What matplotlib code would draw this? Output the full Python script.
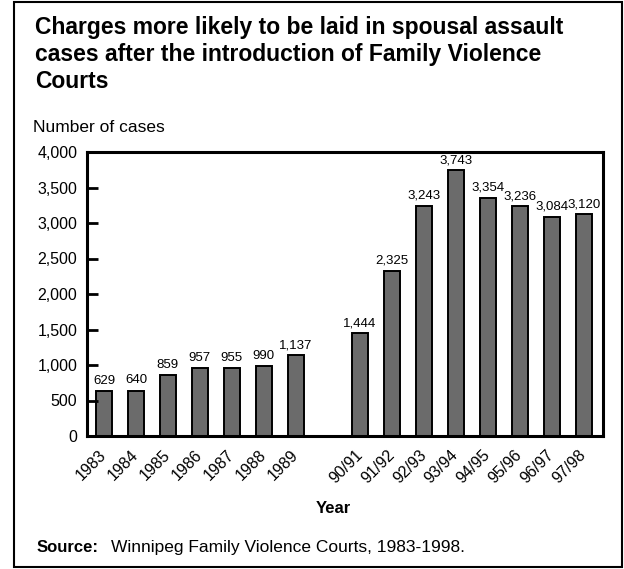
import numpy as np
import matplotlib.pyplot as plt
from matplotlib.patches import Rectangle
from matplotlib.ticker import FuncFormatter

plt.rcParams['font.family'] = ['Liberation Sans', 'DejaVu Sans']

years = ['1983', '1984', '1985', '1986', '1987', '1988', '1989']
year_vals = [629, 640, 859, 957, 955, 990, 1137]
fiscal = ['90/91', '91/92', '92/93', '93/94', '94/95', '95/96', '96/97', '97/98']
fiscal_vals = [1444, 2325, 3243, 3743, 3354, 3236, 3084, 3120]

labels = years + fiscal
values = year_vals + fiscal_vals
# one empty slot between the calendar years and the fiscal years
pos = np.concatenate([np.arange(len(years)), np.arange(len(fiscal)) + len(years) + 1])

W, H = 624, 569
fig = plt.figure(figsize=(W / 100, H / 100), dpi=100)
ax = fig.add_axes([87 / W, 1 - 436 / H, (603 - 87) / W, (436 - 152) / H])

bars = ax.bar(pos, values, width=0.5, color='#6b6b6b', edgecolor='black', linewidth=1.4)
for x, v in zip(pos, values):
    ax.annotate(f'{v:,}', (x, v), xytext=(0, 3), textcoords='offset points',
                ha='center', va='bottom', fontsize=9.5)

ax.set_xlim(-0.53, pos[-1] + 0.6)
ax.set_ylim(0, 4000)
ax.set_yticks(np.arange(0, 4001, 500))
ax.yaxis.set_major_formatter(FuncFormatter(lambda v, p: f'{int(v):,}'))
ax.tick_params(axis='y', direction='in', length=8, width=2, pad=7, labelsize=11.5)
ax.set_xticks(pos)
ax.set_xticklabels(labels, rotation=45, ha='right', va='center', rotation_mode='anchor')
ax.tick_params(axis='x', length=0, pad=12, labelsize=11.5)
for s in ax.spines.values():
    s.set_linewidth(2.2)

fig.text(333 / W, 1 - 513 / H, 'Year', ha='center', va='baseline', fontsize=12, fontweight='bold')
fig.text(35 / W, 1 - 16 / H,
         'Charges more likely to be laid in spousal assault\n'
         'cases after the introduction of Family Violence\nCourts',
         ha='left', va='top', fontsize=16.5, fontweight='bold', linespacing=1.22)
fig.text(33 / W, 1 - 132 / H, 'Number of cases', ha='left', va='baseline', fontsize=12.5)
fig.text(37 / W, 1 - 552 / H, 'Source:', ha='left', va='baseline', fontsize=12, fontweight='bold')
fig.text(111 / W, 1 - 552 / H, 'Winnipeg Family Violence Courts, 1983-1998.',
         ha='left', va='baseline', fontsize=12.5)

fig.patches.append(Rectangle((14 / W, 2 / H), (622 - 14) / W, (567 - 2) / H,
                             transform=fig.transFigure, fill=False,
                             edgecolor='black', linewidth=1.5))

fig.savefig('out.png', dpi=100)
